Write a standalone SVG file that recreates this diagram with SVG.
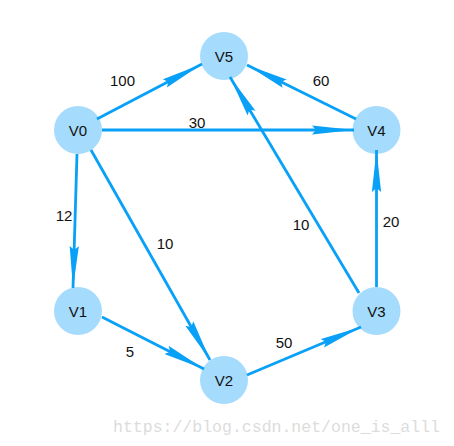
<svg xmlns="http://www.w3.org/2000/svg" width="454" height="446" viewBox="0 0 454 446">
<defs>
<style>
.node{fill:#a5dbfd}
.nl{font-family:"Liberation Sans",Arial,sans-serif;font-size:15px;fill:#111;text-anchor:middle}
.el{font-family:"Liberation Sans",Arial,sans-serif;font-size:15px;fill:#111;text-anchor:middle}
.edge{stroke:#09a0f7;stroke-width:2.8;fill:none;marker-end:url(#arr)}
.wm{font-family:"Liberation Mono","DejaVu Sans Mono",monospace;font-size:16.5px;fill:#dcdcdc}
</style>
<marker id="arr" markerUnits="userSpaceOnUse" viewBox="0 -5 42 10" refX="42" refY="0" markerWidth="42" markerHeight="10" orient="auto">
<path d="M0,-4.6 L42,0 L0,4.6 L4,0 z" fill="#09a0f7"/>
</marker>
</defs>
<rect width="454" height="446" fill="#fff"/>
<g id="nodes">
<g id="V0"><circle class="node" cx="78" cy="130" r="24"/><text class="nl" x="78" y="135.5">V0</text></g>
<g id="V5"><circle class="node" cx="224" cy="56" r="24"/><text class="nl" x="224" y="61.5">V5</text></g>
<g id="V4"><circle class="node" cx="376.5" cy="130" r="24"/><text class="nl" x="376.5" y="135.5">V4</text></g>
<g id="V1"><circle class="node" cx="78" cy="311" r="24"/><text class="nl" x="78" y="316.5">V1</text></g>
<g id="V2"><circle class="node" cx="224" cy="380" r="24"/><text class="nl" x="224" y="385.5">V2</text></g>
<g id="V3"><circle class="node" cx="376.5" cy="311" r="24"/><text class="nl" x="376.5" y="316.5">V3</text></g>
</g>
<g id="connectors">
<line class="edge" x1="97" y1="119" x2="202" y2="64"/>
<line class="edge" x1="356" y1="119" x2="247" y2="65"/>
<line class="edge" x1="102" y1="130" x2="354" y2="130"/>
<line class="edge" x1="359" y1="293" x2="230" y2="77"/>
<line class="edge" x1="376.5" y1="287" x2="376.5" y2="150"/>
<line class="edge" x1="77" y1="154" x2="73" y2="288"/>
<line class="edge" x1="91" y1="150" x2="210" y2="360"/>
<line class="edge" x1="102" y1="317" x2="204" y2="369"/>
<line class="edge" x1="247" y1="375" x2="361" y2="327"/>
</g>
<g id="labels">
<text class="el" x="122.5" y="86">100</text>
<text class="el" x="197" y="128">30</text>
<text class="el" x="321" y="86">60</text>
<text class="el" x="64" y="221">12</text>
<text class="el" x="165" y="249">10</text>
<text class="el" x="301" y="230">10</text>
<text class="el" x="391" y="227">20</text>
<text class="el" x="130" y="357">5</text>
<text class="el" x="284" y="348">50</text>
</g>
<text class="wm" x="113" y="432" textLength="327">https://blog.csdn.net/one_is_alll</text>
</svg>
